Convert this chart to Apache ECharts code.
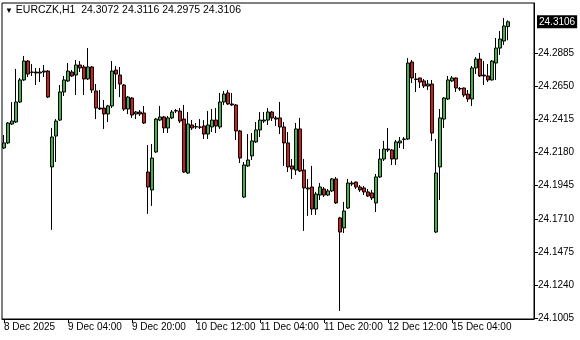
<!DOCTYPE html>
<html>
<head>
<meta charset="utf-8">
<script src="https://cdn.jsdelivr.net/npm/echarts@6/dist/echarts.min.js"></script>
<style>html,body{margin:0;padding:0;background:#fff}#c{width:580px;height:340px}</style>
</head>
<body>
<div id="c"></div>
<script>
var symbolName = 'EURCZK,H1';
var tickLabels = ['8 Dec 2025','9 Dec 04:00','9 Dec 20:00','10 Dec 12:00','11 Dec 04:00','11 Dec 20:00','12 Dec 12:00','15 Dec 04:00'];
var priceTicks = [24.1005,24.1240,24.1475,24.1710,24.1945,24.2180,24.2415,24.2650,24.2885];

var open = [24.2212,24.2248,24.2382,24.2396,24.2538,24.2694,24.2828,24.2750,24.2750,24.2743,24.2750,24.2757,24.2078,24.2297,24.2410,24.2609,
24.2687,24.2750,24.2729,24.2800,24.2786,24.2701,24.2786,24.2616,24.2495,24.2495,24.2453,24.2510,24.2764,24.2729,24.2658,24.2488,
24.2566,24.2453,24.2467,24.2460,24.2042,24.1915,24.2184,24.2410,24.2432,24.2354,24.2425,24.2474,24.2474,24.2417,24.2035,24.2375,
24.2361,24.2361,24.2368,24.2311,24.2361,24.2410,24.2361,24.2538,24.2602,24.2524,24.2517,24.2333,24.1865,24.2085,24.2156,24.2255,
24.2340,24.2403,24.2410,24.2467,24.2425,24.2425,24.2361,24.2248,24.2085,24.2056,24.2347,24.2056,24.1922,24.1936,24.1780,24.1879,
24.1922,24.1879,24.1908,24.1993,24.1717,24.1646,24.1787,24.1957,24.1971,24.1936,24.1929,24.1901,24.1894,24.1823,24.2007,24.2134,
24.2205,24.2198,24.2134,24.2248,24.2272,24.2276,24.2821,24.2701,24.2708,24.2687,24.2651,24.2665,24.1617,24.2078,24.2417,24.2559,
24.2687,24.2708,24.2630,24.2637,24.2594,24.2559,24.2779,24.2842,24.2729,24.2722,24.2694,24.2814,24.2920,24.2970,24.3072];
var high = [24.2304,24.2396,24.2538,24.2772,24.2708,24.2864,24.2835,24.2807,24.2779,24.2779,24.2800,24.2764,24.2354,24.2417,24.2658,24.2722,
24.2814,24.2764,24.2835,24.2828,24.2800,24.2920,24.2793,24.2665,24.2623,24.2552,24.2517,24.2828,24.2793,24.2786,24.2665,24.2580,
24.2573,24.2474,24.2481,24.2510,24.2233,24.2240,24.2425,24.2510,24.2439,24.2439,24.2481,24.2488,24.2495,24.2517,24.2467,24.2410,
24.2389,24.2417,24.2410,24.2474,24.2488,24.2495,24.2602,24.2616,24.2623,24.2602,24.2524,24.2340,24.2113,24.2311,24.2318,24.2396,
24.2467,24.2467,24.2495,24.2474,24.2439,24.2538,24.2396,24.2325,24.2134,24.2389,24.2425,24.2134,24.1993,24.2085,24.1901,24.1964,
24.1936,24.1922,24.2000,24.2007,24.1724,24.1830,24.1993,24.1979,24.1975,24.1950,24.1943,24.1922,24.1915,24.2028,24.2205,24.2262,
24.2354,24.2205,24.2269,24.2290,24.2290,24.2849,24.2835,24.2743,24.2710,24.2701,24.2694,24.2694,24.2276,24.2488,24.2573,24.2722,
24.2722,24.2712,24.2644,24.2640,24.2623,24.2793,24.2856,24.2885,24.2828,24.2807,24.2835,24.2991,24.3041,24.3133,24.3116];
var low = [24.2205,24.2240,24.2375,24.2389,24.2531,24.2687,24.2715,24.2722,24.2658,24.2679,24.2715,24.2566,24.1632,24.2113,24.2403,24.2580,
24.2679,24.2715,24.2587,24.2750,24.2587,24.2694,24.2602,24.2417,24.2481,24.2347,24.2396,24.2495,24.2630,24.2573,24.2474,24.2453,
24.2425,24.2417,24.2439,24.2382,24.1745,24.1802,24.2177,24.2403,24.2318,24.2318,24.2417,24.2460,24.2389,24.2035,24.2028,24.2340,
24.2347,24.2347,24.2276,24.2276,24.2325,24.2318,24.2347,24.2517,24.2517,24.2510,24.2269,24.2106,24.1858,24.2078,24.2127,24.2248,
24.2290,24.2389,24.2375,24.2403,24.2368,24.2311,24.2085,24.2042,24.1993,24.2021,24.2042,24.1625,24.1731,24.1738,24.1738,24.1844,
24.1865,24.1872,24.1901,24.1816,24.1058,24.1610,24.1780,24.1943,24.1922,24.1901,24.1879,24.1865,24.1844,24.1759,24.2000,24.2120,
24.2184,24.2092,24.2092,24.2212,24.2205,24.2269,24.2672,24.2609,24.2637,24.2637,24.2623,24.2262,24.1610,24.1844,24.2354,24.2552,
24.2679,24.2609,24.2616,24.2573,24.2538,24.2510,24.2736,24.2715,24.2658,24.2679,24.2690,24.2694,24.2871,24.2942,24.2975];
var close = [24.2248,24.2389,24.2403,24.2538,24.2694,24.2828,24.2736,24.2748,24.2743,24.2750,24.2757,24.2573,24.2290,24.2403,24.2609,24.2694,
24.2757,24.2722,24.2800,24.2779,24.2701,24.2786,24.2623,24.2495,24.2488,24.2453,24.2510,24.2757,24.2736,24.2665,24.2488,24.2573,
24.2446,24.2467,24.2453,24.2389,24.1936,24.2141,24.2417,24.2432,24.2354,24.2425,24.2467,24.2477,24.2403,24.2042,24.2382,24.2354,
24.2364,24.2359,24.2311,24.2375,24.2410,24.2368,24.2538,24.2594,24.2524,24.2517,24.2333,24.2141,24.2092,24.2127,24.2262,24.2340,
24.2410,24.2410,24.2467,24.2425,24.2417,24.2361,24.2248,24.2078,24.2063,24.2347,24.2049,24.1929,24.1929,24.1780,24.1886,24.1936,
24.1879,24.1908,24.1993,24.1823,24.1617,24.1766,24.1964,24.1964,24.1936,24.1915,24.1901,24.1872,24.1858,24.2007,24.2134,24.2205,
24.2198,24.2134,24.2255,24.2262,24.2276,24.2814,24.2708,24.2697,24.2679,24.2651,24.2665,24.2318,24.2035,24.2425,24.2566,24.2694,
24.2708,24.2637,24.2634,24.2587,24.2559,24.2779,24.2842,24.2722,24.2722,24.2694,24.2828,24.2920,24.2984,24.3076,24.3106];

var yMin = 24.1001, yMax = 24.3239;
var barsPerLabel = 16, emptySlots = 6;

// hourly category names: 8 Dec 12:00 onward, weekend skipped
var categories = [];
(function(){
  var t = Date.UTC(2025, 11, 8, 12);
  while (categories.length < open.length) {
    var d = new Date(t);
    var dow = d.getUTCDay();
    if (dow !== 0 && dow !== 6) {
      categories.push(d.getUTCDate() + ' Dec ' + String(d.getUTCHours()).padStart(2,'0') + ':00');
    }
    t += 3600000;
  }
  for (var k = 0; k < emptySlots; k++) categories.push('');
})();

var candles = open.map(function(o, i){ return [o, close[i], low[i], high[i]]; });
var last = close[close.length - 1];

var chart = echarts.init(document.getElementById('c'), null, {renderer: 'canvas'});
var FONT = 'Liberation Sans, Arial, sans-serif';
function isLabelIdx(i){ return i % barsPerLabel === 0 && i / barsPerLabel < tickLabels.length; }

chart.setOption({
  animation: false,
  backgroundColor: '#ffffff',
  title: {
    left: 5, top: 5, padding: 0,
    text: '{t|▼}{s| ' + symbolName + '  ' + [open[open.length-1], high[high.length-1], low[low.length-1], last].map(function(v){return v.toFixed(4);}).join(' ') + '}',
    textStyle: {
      fontWeight: 'normal',
      rich: {
        t: {fontSize: 8, color: '#000', fontFamily: FONT, fontWeight: 'normal'},
        s: {fontSize: 10.5, color: '#000', fontFamily: FONT, fontWeight: 'normal'}
      }
    }
  },
  grid: {left: 2, right: 46, top: 3, bottom: 21, show: true, borderColor: '#000', borderWidth: 1, backgroundColor: '#fff'},
  xAxis: {
    type: 'category',
    data: categories,
    boundaryGap: true,
    axisLine: {show: true, lineStyle: {color: '#000', width: 1}},
    axisTick: {show: true, alignWithLabel: true, length: 4, interval: function(i){ return isLabelIdx(i); }, lineStyle: {color: '#000'}},
    axisLabel: {
      interval: function(i){ return isLabelIdx(i); },
      formatter: function(v, i){ return isLabelIdx(i) ? tickLabels[i / barsPerLabel] : ''; },
      align: 'left', margin: 3, color: '#000', fontSize: 10, fontFamily: FONT
    },
    splitLine: {show: false}
  },
  yAxis: {
    type: 'value',
    position: 'right',
    min: yMin, max: yMax,
    axisLine: {show: true, lineStyle: {color: '#000', width: 1}},
    axisTick: {show: true, length: 4, customValues: priceTicks, lineStyle: {color: '#000'}},
    axisLabel: {customValues: priceTicks, formatter: function(v){ return v.toFixed(4); }, margin: 4, color: '#000', fontSize: 10, fontFamily: FONT},
    splitLine: {show: false}
  },
  series: [{
    type: 'candlestick',
    data: candles,
    barWidth: 3,
    clip: false,
    itemStyle: {
      color: '#3db545',
      color0: '#d41c1c',
      borderColor: '#000',
      borderColor0: '#000',
      borderWidth: 1
    },
    markLine: {
      symbol: 'none',
      silent: true,
      precision: 4,
      lineStyle: {color: 'rgba(0,0,0,0)', width: 0},
      data: [{yAxis: last}],
      label: {
        show: true, position: 'end', distance: 3,
        formatter: function(){ return last.toFixed(4); },
        backgroundColor: '#000', color: '#fff', padding: [2, 2, 1, 2],
        fontSize: 10, fontFamily: FONT
      }
    }
  }]
});
</script>
</body>
</html>
